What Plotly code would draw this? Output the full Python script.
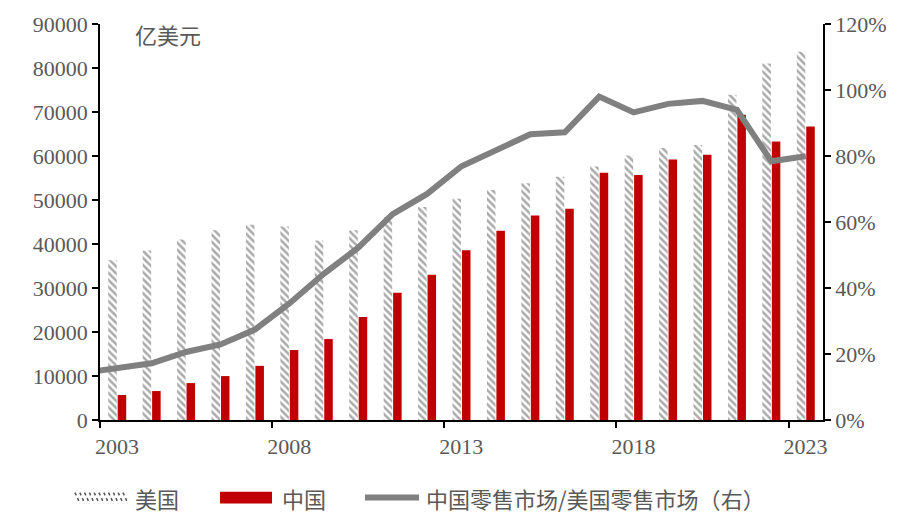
import plotly.graph_objects as go

years = list(range(2003, 2024))
us_retail = [36300, 38500, 41000, 43100, 44400, 44000, 40800, 43100, 46100, 48400,
             50300, 52300, 53800, 55300, 57600, 60100, 61800, 62500, 73900, 81000, 83700]
cn_retail = [5670, 6580, 8390, 9980, 12300, 15900, 18400, 23400, 28900, 33000,
             38600, 43000, 46500, 48000, 56200, 55700, 59200, 60300, 69400, 63300, 66700]
ratio_years = list(range(2002, 2024))
ratio = [0.143, 0.157, 0.172, 0.206, 0.229, 0.274, 0.353, 0.443, 0.522, 0.624, 0.685,
         0.769, 0.820, 0.866, 0.872, 0.980, 0.932, 0.958, 0.967, 0.940, 0.784, 0.799]
x_tick_labels = ["2003", "2008", "2013", "2018", "2023"]
x_tick_pos = [2002.5, 2007.5, 2012.5, 2017.5, 2022.5]
left_ticks = list(range(0, 90001, 10000))
left_tick_labels = [str(v) for v in left_ticks]
right_ticks = [0, 0.2, 0.4, 0.6, 0.8, 1.0, 1.2]

names = ["美国", "中国", "中国零售市场/美国零售市场（右）"]
unit_label = "亿美元"

W, H = 900, 514
L, R, T, B = 100, 77, 22, 94
PW, PH = W - L - R, H - T - B

def px(xp):
    return (xp - L) / PW

def py(yp):
    return (H - B - yp) / PH

TXT = "#595959"
SERIF = "Liberation Serif, Times New Roman, serif"
CJK = "Noto Sans CJK SC, sans-serif"

fig = go.Figure()
fig.add_trace(go.Bar(
    x=years, y=us_retail, name=names[0], showlegend=False,
    marker=dict(color="white", line=dict(width=0),
                pattern=dict(shape="\\", fgcolor="#555555", bgcolor="white",
                             size=5, solidity=0.5)),
))
fig.add_trace(go.Bar(
    x=years, y=cn_retail, name=names[1], showlegend=False,
    marker=dict(color="#C00000", line=dict(width=0)),
))
fig.add_trace(go.Scatter(
    x=ratio_years, y=ratio, name=names[2], yaxis="y2", mode="lines",
    showlegend=False, line=dict(color="#808080", width=6),
))

fig.update_layout(
    width=W, height=H,
    margin=dict(l=L, r=R, t=T, b=B),
    paper_bgcolor="white", plot_bgcolor="white",
    barmode="group", bargap=0.45, bargroupgap=0.1,
    xaxis=dict(
        range=[2002.5, 2023.5], tickmode="array", tickvals=x_tick_pos,
        ticktext=x_tick_labels, ticklabelshift=17, ticks="outside", ticklen=6,
        tickcolor="black", tickwidth=1.5, showline=True, linecolor="black",
        linewidth=1.5, showgrid=False, zeroline=False,
        tickfont=dict(family=SERIF, size=22, color=TXT),
    ),
    yaxis=dict(
        range=[0, 90000], tickmode="array", tickvals=left_ticks,
        ticktext=left_tick_labels,
        ticks="outside", ticklen=6, tickcolor="black", tickwidth=1.5,
        showline=True, linecolor="black", linewidth=1.5, showgrid=False,
        zeroline=False, tickfont=dict(family=SERIF, size=22, color=TXT),
    ),
    yaxis2=dict(
        overlaying="y", side="right", range=[0, 1.2], tickmode="array",
        tickvals=right_ticks, tickformat=".0%", ticks="outside", ticklen=6,
        tickcolor="black", tickwidth=1.5, showline=True, linecolor="black",
        linewidth=1.5, showgrid=False, zeroline=False,
        tickfont=dict(family=SERIF, size=22, color=TXT),
    ),
)

# unit label
fig.add_annotation(x=px(133), y=py(32), xref="paper", yref="paper",
                   text=unit_label, showarrow=False, xanchor="left", yanchor="middle",
                   font=dict(family=CJK, size=22, color=TXT))

# custom legend
ly = 498
for i in range(11):
    x0 = 75 + i * 4.8
    fig.add_shape(type="line", xref="paper", yref="paper",
                  x0=px(x0), y0=py(493), x1=px(x0 + 5), y1=py(504),
                  line=dict(color="#555555", width=1.5, dash="dot"))
fig.add_shape(type="rect", xref="paper", yref="paper",
              x0=px(220), y0=py(492), x1=px(272), y1=py(504),
              fillcolor="#C00000", line=dict(width=0))
fig.add_shape(type="line", xref="paper", yref="paper",
              x0=px(365), y0=py(ly), x1=px(419), y1=py(ly),
              line=dict(color="#808080", width=6))
for xpix, txt in [(133, names[0]), (280, names[1]), (424, names[2])]:
    fig.add_annotation(x=px(xpix), y=py(ly), xref="paper", yref="paper",
                       text=txt, showarrow=False, xanchor="left", yanchor="middle",
                       font=dict(family=CJK, size=22, color=TXT))

fig.write_html("out.html", config={"displayModeBar": False},
               post_script="document.body.style.margin='0';document.body.style.padding='0';")
